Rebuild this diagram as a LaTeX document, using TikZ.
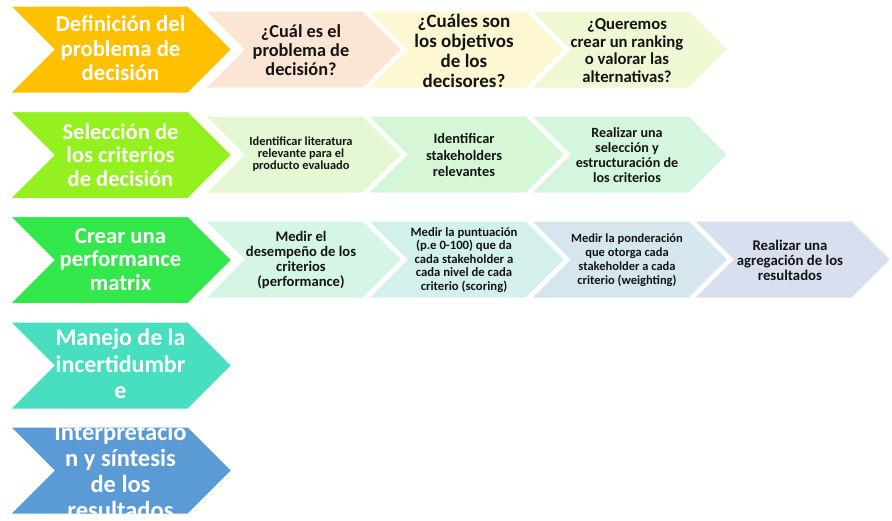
\documentclass[tikz,border=0pt]{standalone}
\usepackage{fontspec}
\setmainfont{Carlito}

% process colours
\definecolor{stepA}{HTML}{FFC000}
\definecolor{stepB}{HTML}{95F01F}
\definecolor{stepC}{HTML}{33E84B}
\definecolor{stepD}{HTML}{48DFC0}
\definecolor{stepE}{HTML}{5B9BD5}
\definecolor{subAa}{HTML}{FBE5D5}
\definecolor{subAb}{HTML}{FDF8D2}
\definecolor{subAc}{HTML}{EEF8D2}
\definecolor{subBa}{HTML}{E4F8D4}
\definecolor{subBb}{HTML}{D6F7D6}
\definecolor{subBc}{HTML}{D5F6DE}
\definecolor{subCa}{HTML}{D5F5E5}
\definecolor{subCb}{HTML}{D4F0ED}
\definecolor{subCc}{HTML}{D5E6EE}
\definecolor{subCd}{HTML}{D8DFF0}

% chevron: left x, top y, width (to the tip), height, fill colour
\newcommand{\chevshape}[5]{%
  \path[chev,fill=#5] (#1,#2) -- ++(#3-#4/2,0) -- ++(#4/2,#4/2)
    -- ++(-#4/2,#4/2) -- ++(-#3+#4/2,0) -- ++(#4/2,-#4/2) -- cycle;}

\begin{document}
\begin{tikzpicture}[x=1pt,y=-1pt,
  chev/.style={draw=white,line width=3pt,line join=miter},
  fs/.style 2 args={font=\fontsize{#1}{#2}\selectfont\bfseries},
  bigtxt/.style={text=white,align=center,inner sep=0pt},
  smalltxt/.style={text=black!92,align=center,inner sep=0pt}]

\fill[white] (0,0) rectangle (892,520);
\useasboundingbox (0,0) rectangle (892,520);

% ---- row 1: problem definition
\chevshape{529}{10}{200}{79}{subAc}
\chevshape{366}{10}{200}{79}{subAb}
\chevshape{203}{10}{200}{79}{subAa}
\chevshape{8}{5}{225}{89}{stepA}
\node[bigtxt,fs={22.7}{24.5}] (defin) at (120.5,48.5) {Definición del\\problema de\\decisión};
\node[smalltxt,fs={18.3}{19}] (q1) at (301,50.5) {¿Cuál es el\\problema de\\decisión?};
\node[smalltxt,fs={19}{20}] (q2) at (464,50.5) {¿Cuáles son\\los objetivos\\de los\\decisores?};
\node[smalltxt,fs={16.7}{17.6}] (q3) at (627,50.5) {¿Queremos\\crear un ranking\\o valorar las\\alternativas?};

% ---- row 2: criteria selection
\chevshape{529}{115}{200}{79}{subBc}
\chevshape{366}{115}{200}{79}{subBb}
\chevshape{203}{115}{200}{79}{subBa}
\chevshape{8}{110.5}{225}{89}{stepB}
\node[bigtxt,fs={22.5}{23.3}] (selec) at (120.5,155) {Selección de\\los criterios\\de decisión};
\node[smalltxt,fs={12.4}{12.2}] (lit) at (301,154) {Identificar literatura\\relevante para el\\producto evaluado};
\node[smalltxt,fs={14.4}{16.7}] (stake) at (464,155) {Identificar\\stakeholders\\relevantes};
\node[smalltxt,fs={14.1}{15}] (estr) at (627,155) {Realizar una\\selección y\\estructuración de\\los criterios};

% ---- row 3: performance matrix
\chevshape{692}{220}{200}{79}{subCd}
\chevshape{529}{220}{200}{79}{subCc}
\chevshape{366}{220}{200}{79}{subCb}
\chevshape{203}{220}{200}{79}{subCa}
\chevshape{8}{215.5}{225}{89}{stepC}
\node[bigtxt,fs={22.7}{23.3}] (matrix) at (120.5,259.5) {Crear una\\performance\\matrix};
\node[smalltxt,fs={14.6}{15}] (perf) at (301,260) {Medir el\\desempeño de los\\criterios\\(performance)};
\node[smalltxt,fs={12.7}{13.4}] (score) at (464,260) {Medir la puntuación\\(p.e 0-100) que da\\cada stakeholder a\\cada nivel de cada\\criterio (scoring)};
\node[smalltxt,fs={12.5}{14}] (weight) at (627,260) {Medir la ponderación\\que otorga cada\\stakeholder a cada\\criterio (weighting)};
\node[smalltxt,fs={14.8}{15}] (aggr) at (790,260) {Realizar una\\agregación de los\\resultados};

% ---- row 4: uncertainty
\chevshape{8}{321}{225}{89}{stepD}
\node[bigtxt,fs={23.9}{26.5}] (incert) at (120.5,364) {Manejo de la\\incertidumbr\\e};

% ---- row 5: interpretation
\chevshape{8}{426}{225}{89}{stepE}
\node[bigtxt,fs={24.5}{26}] (interp) at (120.5,471) {Interpretació\\n y síntesis\\de los\\resultados};

\end{tikzpicture}
\end{document}
